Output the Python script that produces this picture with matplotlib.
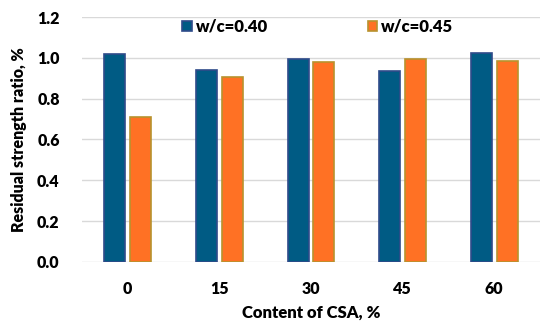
import numpy as np
import matplotlib
matplotlib.use('Agg')
import matplotlib.pyplot as plt

plt.rcParams['font.family'] = ['Lato', 'DejaVu Sans']
plt.rcParams['font.weight'] = 'heavy'

# Data
csa_content = ['0', '15', '30', '45', '60']
wc_040 = [1.02, 0.94, 0.995, 0.935, 1.025]
wc_045 = [0.71, 0.905, 0.98, 0.995, 0.985]

x = np.arange(len(csa_content))
width = 0.23
offset = 0.14

fig = plt.figure(figsize=(5.5, 3.29), dpi=100)
ax = fig.add_axes([0.149, 0.204, 0.833, 0.744])

ax.bar(x - offset, wc_040, width, color='#005B84', edgecolor='#2F4B8A',
       linewidth=1.2, label='w/c=0.40', zorder=3)
ax.bar(x + offset, wc_045, width, color='#FF7124', edgecolor='#B8922E',
       linewidth=1.2, label='w/c=0.45', zorder=3)

ax.set_xlim(-0.5, len(csa_content) - 0.5)
ax.set_ylim(0, 1.2)
ax.set_yticks(np.arange(0, 1.21, 0.2))
ax.set_yticklabels(['%.1f' % v for v in np.arange(0, 1.21, 0.2)])
ax.set_xticks(x)
ax.set_xticklabels(csa_content)
ax.tick_params(length=0, labelsize=11.5)
ax.tick_params(axis='y', pad=16)
ax.tick_params(axis='x', pad=14)

for s in ax.spines.values():
    s.set_visible(False)
ax.grid(axis='y', color='#D9D9D9', linewidth=1, zorder=0)

ax.set_xlabel('Content of CSA, %', fontsize=12, fontweight='heavy', labelpad=5)
ax.set_ylabel('Residual strength ratio, %', fontsize=11.5, fontweight='heavy', labelpad=7)

ax.legend(loc='upper center', bbox_to_anchor=(0.515, 1.055), ncol=2, frameon=False,
          fontsize=12, handlelength=0.55, handleheight=0.55, handletextpad=0.25,
          columnspacing=6.0)

plt.savefig('out.png', dpi=100)
